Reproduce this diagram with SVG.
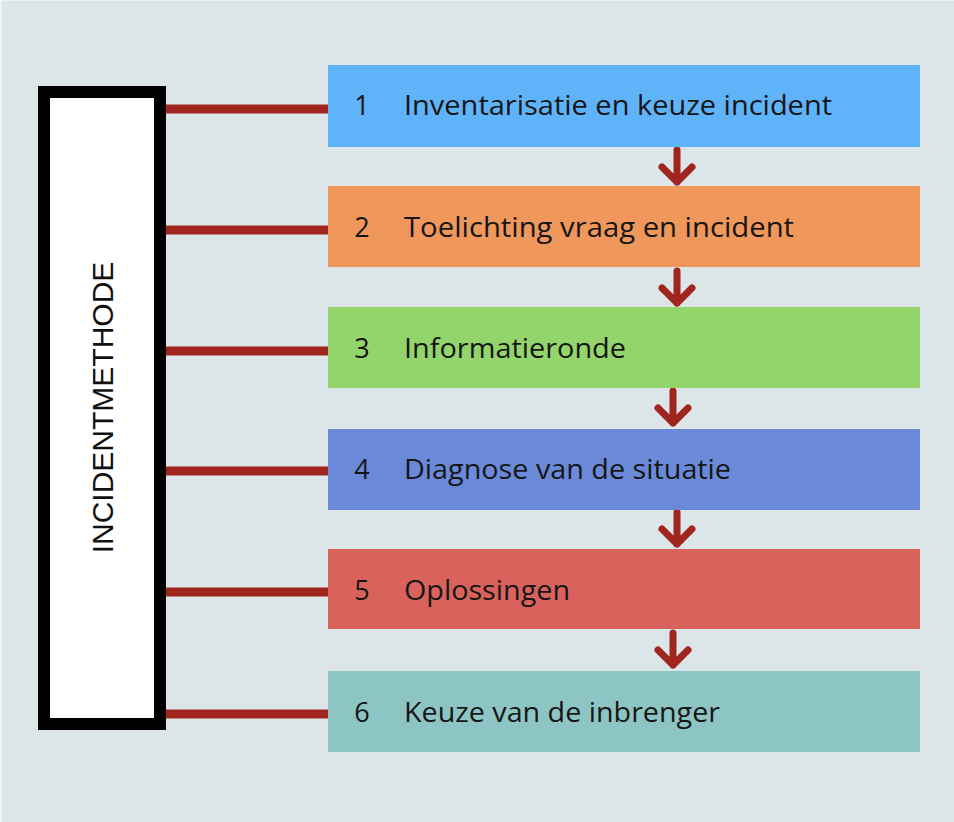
<svg xmlns="http://www.w3.org/2000/svg" width="954" height="822" viewBox="0 0 954 822">
<style>
.bg{fill:#dce6e8}
.conn{stroke:#a1251f;stroke-width:9;fill:none}
.arr{stroke:#a1251f;stroke-width:7;fill:none;stroke-linecap:round;stroke-linejoin:round}
.lbl{font-family:"Open Sans","Noto Sans","Liberation Sans",sans-serif;font-size:27px;fill:#161616}
.num{text-anchor:middle}
.title{font-family:"Liberation Sans",Arial,sans-serif;font-size:30px;fill:#111;text-anchor:middle}
</style>
<defs>
<path id="arrow" class="arr" d="M0,0 V32 M-15,17 L0,32 L15,17"/>
</defs>
<rect x="0" y="0" width="954" height="822" fill="#eef3f4"/>
<rect class="bg" x="2" y="1" width="952" height="821"/>
<g id="connectors">
<line class="conn" x1="166" y1="109" x2="329" y2="109"/>
<line class="conn" x1="166" y1="230" x2="329" y2="230"/>
<line class="conn" x1="166" y1="351" x2="329" y2="351"/>
<line class="conn" x1="166" y1="471" x2="329" y2="471"/>
<line class="conn" x1="166" y1="592" x2="329" y2="592"/>
<line class="conn" x1="166" y1="714" x2="329" y2="714"/>
<use href="#arrow" x="677" y="150"/>
<use href="#arrow" x="677" y="271"/>
<use href="#arrow" x="673" y="391"/>
<use href="#arrow" x="677" y="512"/>
<use href="#arrow" x="673" y="633"/>
</g>
<g id="incidentmethode">
<rect x="44" y="92" width="116" height="632" fill="#fff" stroke="#000" stroke-width="12"/>
<text class="title" transform="translate(113,407.5) rotate(-90)">INCIDENTMETHODE</text>
</g>
<g id="step1">
<rect x="328" y="65" width="592" height="82" fill="#5fb3f9"/>
<text class="lbl num" x="362" y="115">1</text>
<text class="lbl" x="404" y="115" textLength="428" lengthAdjust="spacingAndGlyphs">Inventarisatie en keuze incident</text>
</g>
<g id="step2">
<rect x="328" y="186" width="592" height="81" fill="#f0975b"/>
<text class="lbl num" x="362" y="237">2</text>
<text class="lbl" x="404" y="237" textLength="390" lengthAdjust="spacingAndGlyphs">Toelichting vraag en incident</text>
</g>
<g id="step3">
<rect x="328" y="307" width="592" height="81" fill="#93d56a"/>
<text class="lbl num" x="362" y="358">3</text>
<text class="lbl" x="404" y="358" textLength="222" lengthAdjust="spacingAndGlyphs">Informatieronde</text>
</g>
<g id="step4">
<rect x="328" y="429" width="592" height="81" fill="#6a8ad9"/>
<text class="lbl num" x="362" y="479">4</text>
<text class="lbl" x="404" y="479" textLength="327" lengthAdjust="spacingAndGlyphs">Diagnose van de situatie</text>
</g>
<g id="step5">
<rect x="328" y="549" width="592" height="80" fill="#da625d"/>
<text class="lbl num" x="362" y="600">5</text>
<text class="lbl" x="404" y="600" textLength="166" lengthAdjust="spacingAndGlyphs">Oplossingen</text>
</g>
<g id="step6">
<rect x="328" y="671" width="592" height="81" fill="#8dc5c4"/>
<text class="lbl num" x="362" y="722">6</text>
<text class="lbl" x="404" y="722" textLength="316" lengthAdjust="spacingAndGlyphs">Keuze van de inbrenger</text>
</g>
</svg>
